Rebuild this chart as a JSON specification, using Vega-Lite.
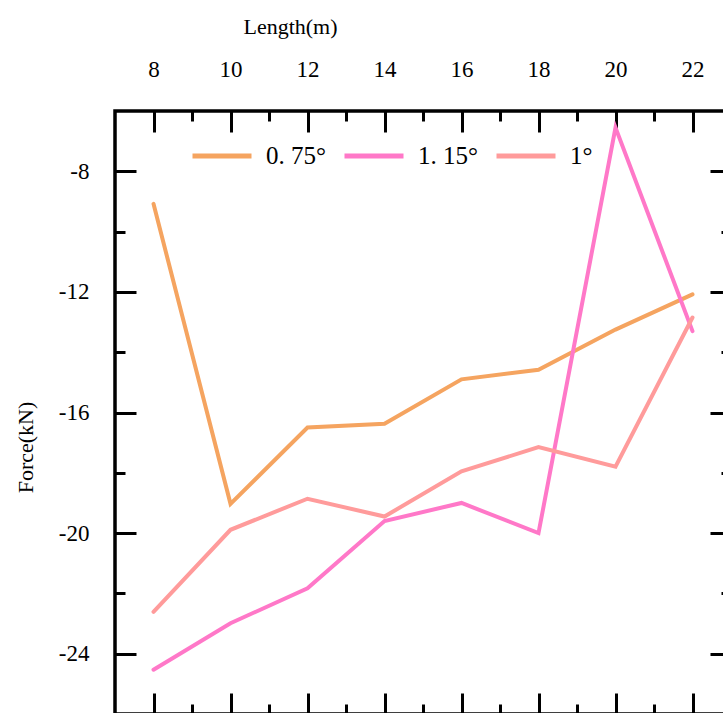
{
  "$schema": "https://vega.github.io/schema/vega-lite/v6.json",
  "width": 616,
  "height": 603,
  "autosize": "none",
  "padding": {"left": 115, "top": 111, "right": 0, "bottom": 0},
  "background": "white",
  "config": {
    "font": "Liberation Serif",
    "view": {"stroke": "black", "strokeWidth": 3.5},
    "axis": {
      "grid": false,
      "domain": false,
      "tickColor": "black",
      "tickWidth": 3,
      "labelColor": "black",
      "labelFont": "Liberation Serif",
      "labelFontSize": 23,
      "titleColor": "black",
      "titleFont": "Liberation Serif",
      "titleFontSize": 22,
      "titleFontWeight": "normal"
    }
  },
  "data": {
    "values": [
      {"Length": 8, "Force": -9.08, "series": "0. 75°"},
      {"Length": 10, "Force": -19.03, "series": "0. 75°"},
      {"Length": 12, "Force": -16.5, "series": "0. 75°"},
      {"Length": 14, "Force": -16.37, "series": "0. 75°"},
      {"Length": 16, "Force": -14.9, "series": "0. 75°"},
      {"Length": 18, "Force": -14.58, "series": "0. 75°"},
      {"Length": 20, "Force": -13.25, "series": "0. 75°"},
      {"Length": 22, "Force": -12.08, "series": "0. 75°"},
      {"Length": 8, "Force": -24.53, "series": "1. 15°"},
      {"Length": 10, "Force": -22.99, "series": "1. 15°"},
      {"Length": 12, "Force": -21.83, "series": "1. 15°"},
      {"Length": 14, "Force": -19.6, "series": "1. 15°"},
      {"Length": 16, "Force": -19.0, "series": "1. 15°"},
      {"Length": 18, "Force": -20.0, "series": "1. 15°"},
      {"Length": 20, "Force": -6.55, "series": "1. 15°"},
      {"Length": 22, "Force": -13.3, "series": "1. 15°"},
      {"Length": 8, "Force": -22.61, "series": "1°"},
      {"Length": 10, "Force": -19.89, "series": "1°"},
      {"Length": 12, "Force": -18.86, "series": "1°"},
      {"Length": 14, "Force": -19.45, "series": "1°"},
      {"Length": 16, "Force": -17.95, "series": "1°"},
      {"Length": 18, "Force": -17.15, "series": "1°"},
      {"Length": 20, "Force": -17.8, "series": "1°"},
      {"Length": 22, "Force": -12.85, "series": "1°"}
    ]
  },
  "layer": [
    {
      "mark": {"type": "line", "strokeWidth": 4, "strokeCap": "round"},
      "encoding": {
        "x": {
          "field": "Length",
          "type": "quantitative",
          "scale": {"domain": [7, 23], "nice": false, "zero": false},
          "axis": {
            "orient": "top",
            "values": [8, 10, 12, 14, 16, 18, 20, 22],
            "tickSize": -21,
            "labelPadding": 51,
            "title": "Length(m)",
            "titleX": 175,
            "titleY": -78,
            "titleBaseline": "alphabetic",
            "titleAnchor": "middle"
          }
        },
        "y": {
          "field": "Force",
          "type": "quantitative",
          "scale": {"domain": [-26, -6], "nice": false, "zero": false},
          "axis": {
            "orient": "left",
            "values": [-8, -12, -16, -20, -24],
            "labelExpr": "'-' + abs(datum.value)",
            "tickSize": -21,
            "labelPadding": 47,
            "title": "Force(kN)",
            "titleX": -83,
            "titleY": 336,
            "titleBaseline": "alphabetic",
            "titleAnchor": "middle"
          }
        },
        "color": {
          "field": "series",
          "type": "nominal",
          "scale": {
            "domain": ["0. 75°", "1. 15°", "1°"],
            "range": ["#F5A460", "#FF78C8", "#FF9B9B"]
          },
          "legend": {
            "orient": "none",
            "legendX": 75,
            "legendY": 13,
            "direction": "horizontal",
            "title": null,
            "symbolType": "stroke",
            "symbolSize": 3481,
            "symbolStrokeWidth": 5,
            "labelFont": "Liberation Serif",
            "labelFontSize": 25,
            "labelColor": "black",
            "labelOffset": 12,
            "columnPadding": 8
          }
        }
      }
    },
    {
      "mark": {"type": "line", "opacity": 0},
      "encoding": {
        "x": {
          "field": "Length",
          "type": "quantitative",
          "axis": {"orient": "top", "values": [9, 11, 13, 15, 17, 19, 21], "tickSize": -10, "labels": false, "title": null}
        },
        "y": {
          "field": "Force",
          "type": "quantitative",
          "axis": {"orient": "left", "values": [-10, -14, -18, -22], "tickSize": -10, "labels": false, "title": null}
        },
        "detail": {"field": "series"}
      }
    },
    {
      "mark": {"type": "line", "opacity": 0},
      "encoding": {
        "x": {
          "field": "Length",
          "type": "quantitative",
          "axis": {"orient": "bottom", "values": [8, 10, 12, 14, 16, 18, 20, 22], "tickSize": -21, "labels": false, "title": null}
        },
        "y": {
          "field": "Force",
          "type": "quantitative",
          "axis": {"orient": "right", "values": [-8, -12, -16, -20, -24], "tickSize": -21, "labels": false, "title": null}
        },
        "detail": {"field": "series"}
      }
    },
    {
      "mark": {"type": "line", "opacity": 0},
      "encoding": {
        "x": {
          "field": "Length",
          "type": "quantitative",
          "axis": {"orient": "bottom", "values": [9, 11, 13, 15, 17, 19, 21], "tickSize": -10, "labels": false, "title": null}
        },
        "y": {
          "field": "Force",
          "type": "quantitative",
          "axis": {"orient": "right", "values": [-10, -14, -18, -22], "tickSize": -10, "labels": false, "title": null}
        },
        "detail": {"field": "series"}
      }
    }
  ],
  "resolve": {"axis": {"x": "independent", "y": "independent"}}
}
